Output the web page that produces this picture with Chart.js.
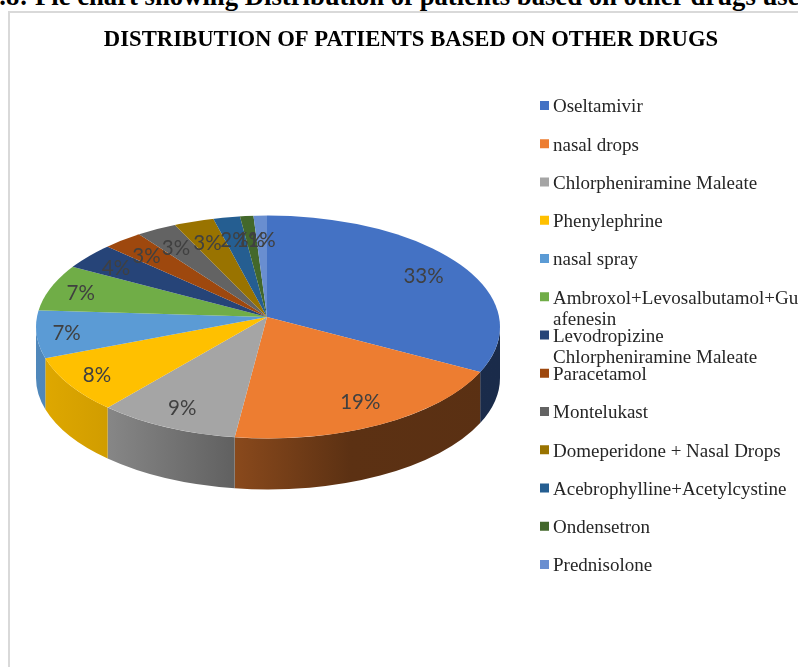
<!DOCTYPE html>
<html><head><meta charset="utf-8">
<script src="https://cdn.jsdelivr.net/npm/chart.js@4/dist/chart.umd.min.js"></script>
<style>
html,body{margin:0;padding:0;background:#fff;overflow:hidden;width:798px;height:667px}
#cap{position:absolute;left:-14px;top:-19px;line-height:30px;white-space:nowrap;font-family:"Liberation Serif",serif;font-weight:bold;font-size:26.7px;color:#000}
#frame{position:absolute;left:8px;top:11px;width:900px;height:800px;border:2px solid #d9d9d9;box-sizing:border-box}
canvas{position:absolute;left:0;top:0}
</style></head><body>
<div id="cap">4.8: Pie chart showing Distribution of patients based on other drugs used</div>
<div id="frame"></div>
<canvas id="c" width="798" height="667"></canvas>
<script>
const titleText = "DISTRIBUTION OF PATIENTS BASED ON OTHER DRUGS";
const categories = ["Oseltamivir","nasal drops","Chlorpheniramine Maleate","Phenylephrine","nasal spray",
  "Ambroxol+Levosalbutamol+Gu\nafenesin","Levodropizine\nChlorpheniramine Maleate","Paracetamol","Montelukast",
  "Domeperidone + Nasal Drops","Acebrophylline+Acetylcystine","Ondensetron","Prednisolone"];
const values = [33,19,9,8,7,7,4,3,3,3,2,1,1];
const colors = ["#4472C4","#ED7D31","#A5A5A5","#FFC000","#5B9BD5","#70AD47","#264478","#9E480E","#636363","#997300","#255E91","#43682B","#698ED0"];

// Look of the tilted disc
const tilt = 0.47, rim = {cx:268, cy:327, rx:232, ry:111.5}, depth = 51;
const shade = [[36,.88],[106,.82],[236,.58],[350,.39],[500,.38]];

function rgba(hex,f){const n=parseInt(hex.slice(1),16);
  return `rgb(${Math.round((n>>16&255)*f)},${Math.round((n>>8&255)*f)},${Math.round((n&255)*f)})`;}
function rimParam(o,a){ // where the ray at angle a leaves the rim ellipse
  const dx=Math.cos(a), dy=Math.sin(a)*tilt, ex=(o.x-rim.cx)/rim.rx, ey=(o.y-rim.cy)/rim.ry;
  const A=(dx/rim.rx)**2+(dy/rim.ry)**2, B=2*(ex*dx/rim.rx+ey*dy/rim.ry), C=ex*ex+ey*ey-1;
  const s=(-B+Math.sqrt(B*B-4*A*C))/(2*A);
  let t=Math.atan2((o.y+s*dy-rim.cy)/rim.ry,(o.x+s*dx-rim.cx)/rim.rx);
  if(t<-Math.PI/2-0.3) t+=2*Math.PI;
  return t;
}
const pie3d = {
  id:'pie3d',
  afterLayout(chart){ chart.titleBlock.left=61; chart.titleBlock.right=761; },
  beforeDatasetsDraw(chart){
    const ctx=chart.ctx, arcs=chart.getDatasetMeta(0).data;
    arcs.forEach((arc,i)=>{
      const t1=Math.max(rimParam(arc,arc.startAngle),0), t2=Math.min(rimParam(arc,arc.endAngle),Math.PI);
      if(t2<=t1) return;
      const g=ctx.createLinearGradient(shade[0][0],0,shade[shade.length-1][0],0);
      shade.forEach(([x,f])=>g.addColorStop((x-shade[0][0])/(shade[shade.length-1][0]-shade[0][0]),rgba(colors[i],f)));
      ctx.beginPath();
      ctx.ellipse(rim.cx,rim.cy,rim.rx,rim.ry,0,t1,t2);
      ctx.ellipse(rim.cx,rim.cy+depth,rim.rx,rim.ry,0,t2,t1,true);
      ctx.closePath(); ctx.fillStyle=g; ctx.fill();
    });
    const cy=arcs[0].y;
    ctx.save();
    ctx.beginPath(); ctx.ellipse(rim.cx,rim.cy,rim.rx,rim.ry,0,0,2*Math.PI); ctx.clip();
    ctx.translate(0,cy); ctx.scale(1,tilt); ctx.translate(0,-cy);
  },
  afterDatasetsDraw(chart){
    const ctx=chart.ctx, arcs=chart.getDatasetMeta(0).data, total=values.reduce((a,b)=>a+b,0);
    ctx.restore();
    ctx.save();
    ctx.font='20.5px Lato'; ctx.fillStyle='#404040'; ctx.textAlign='center'; ctx.textBaseline='middle';
    arcs.forEach((arc,i)=>{
      const mid=(arc.startAngle+arc.endAngle)/2, c=Math.cos(mid), sn=Math.sin(mid);
      const s=arc.outerRadius*(0.733+0.076*sn-0.03*Math.min(c,0)-0.04*Math.max(c,0)*Math.max(sn,0));
      ctx.fillText(Math.round(values[i]/total*100)+'%',arc.x+s*c,arc.y+s*sn*tilt+1.5-2.5*sn);
    });
    // legend
    ctx.font='19px "Liberation Serif"'; ctx.fillStyle='#262626'; ctx.textAlign='left';
    categories.forEach((name,i)=>{
      const y=106+i*38.25;
      ctx.save(); ctx.fillStyle=colors[i]; ctx.fillRect(540,y-5,9,9); ctx.restore();
      name.split('\n').forEach((ln,j)=>ctx.fillText(ln,553,y+1.5+j*21));
    });
    ctx.restore();
  }
};
new Chart(document.getElementById('c'),{
  type:'pie',
  data:{labels:categories,datasets:[{data:values,backgroundColor:colors,borderWidth:0,clip:false}]},
  plugins:[pie3d],
  options:{
    responsive:false,animation:false,devicePixelRatio:1,
    layout:{padding:{left:5,right:269,top:0,bottom:88}},
    events:[],
    plugins:{
      legend:{display:false},tooltip:{enabled:false},
      title:{display:true,text:titleText,color:'#000',
        font:{family:'"Liberation Serif"',size:22.7,weight:'bold',lineHeight:1.2},
        padding:{top:27,bottom:0.8}}
    }
  }
});
</script>
</body></html>
